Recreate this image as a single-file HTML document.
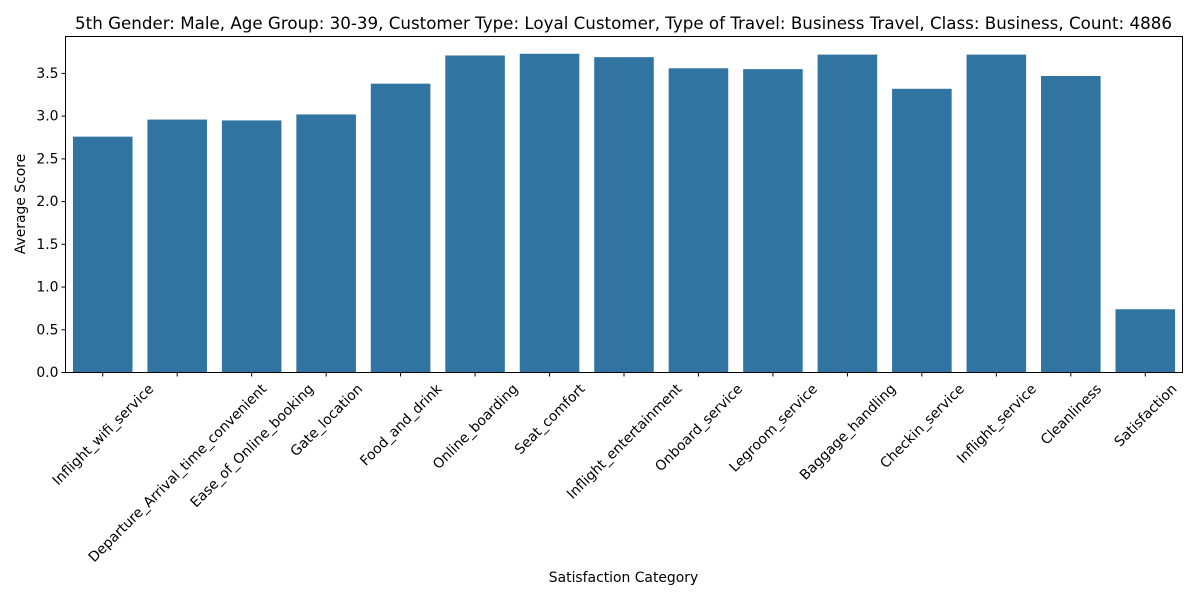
<!DOCTYPE html>
<html><head><meta charset="utf-8"><style>
body{margin:0;background:#fff;}
text{font-family:"DejaVu Sans","Liberation Sans",sans-serif;fill:#000;}
</style></head><body>
<svg id="chart" width="1200" height="600" xmlns="http://www.w3.org/2000/svg">
<rect width="1200" height="600" fill="#fff"/>
<text x="623.5" y="29" font-size="16.7" text-anchor="middle">5th Gender: Male, Age Group: 30-39, Customer Type: Loyal Customer, Type of Travel: Business Travel, Class: Business, Count: 4886</text>
<g id="bars"></g>
<g id="yaxis"></g>
<g id="xaxis"></g>
<rect x="65.5" y="36.5" width="1117" height="336" fill="none" stroke="#000" stroke-width="1"/>
<text transform="translate(25,204) rotate(-90)" font-size="13.9" text-anchor="middle">Average Score</text>
<text x="623.5" y="582" font-size="13.9" text-anchor="middle">Satisfaction Category</text>
</svg>
<script>
const categories=["Inflight_wifi_service","Departure_Arrival_time_convenient","Ease_of_Online_booking","Gate_location","Food_and_drink","Online_boarding","Seat_comfort","Inflight_entertainment","Onboard_service","Legroom_service","Baggage_handling","Checkin_service","Inflight_service","Cleanliness","Satisfaction"];
const values=[2.76,2.96,2.95,3.02,3.38,3.71,3.73,3.69,3.56,3.55,3.72,3.32,3.72,3.47,0.74];
const yTicks=[0,0.5,1,1.5,2,2.5,3,3.5];
const NS="http://www.w3.org/2000/svg";
const L=65.5,R=1182.5,B=372.5,T=36.5;
const yMax=3.932;
function y(v){return B-(v/yMax)*(B-T);}
const step=(R-L)/categories.length;
function x(i){return L+step*(i+0.5);}
const bars=document.getElementById('bars'),ya=document.getElementById('yaxis'),xa=document.getElementById('xaxis');
values.forEach((v,i)=>{
 const r=document.createElementNS(NS,'rect');
 
 
 const w=step*0.8;
 r.setAttribute('x',x(i)-w/2);r.setAttribute('y',y(v));r.setAttribute('width',w);r.setAttribute('height',B-y(v));
 r.setAttribute('fill','#3274a1');bars.appendChild(r);
});
yTicks.forEach(t=>{
 const l=document.createElementNS(NS,'line');
 
 
 l.setAttribute('x1',L-4);l.setAttribute('x2',L);l.setAttribute('y1',y(t));l.setAttribute('y2',y(t));l.setAttribute('stroke','#000');ya.appendChild(l);
 const tx=document.createElementNS(NS,'text');
 
 
 tx.setAttribute('x',L-7);tx.setAttribute('y',y(t)+4.5);tx.setAttribute('font-size','13.9');tx.setAttribute('text-anchor','end');
 tx.textContent=t.toFixed(1);ya.appendChild(tx);
});
categories.forEach((c,i)=>{
 const l=document.createElementNS(NS,'line');
 
 
 l.setAttribute('x1',x(i));l.setAttribute('x2',x(i));l.setAttribute('y1',B);l.setAttribute('y2',B+4);l.setAttribute('stroke','#000');xa.appendChild(l);
 const tx=document.createElementNS(NS,'text');
 
 
 tx.setAttribute('font-size','13.9');tx.setAttribute('text-anchor','middle');
 tx.textContent=c;xa.appendChild(tx);
 const len=tx.getComputedTextLength();
 const h=16;
 const half=(len+h)*0.7071/2;
 const cy=B+8+half;
 tx.setAttribute('x',0);tx.setAttribute('y',5);
 tx.setAttribute('transform','translate('+x(i)+','+cy+') rotate(-45)');
});
</script>
</body></html>
